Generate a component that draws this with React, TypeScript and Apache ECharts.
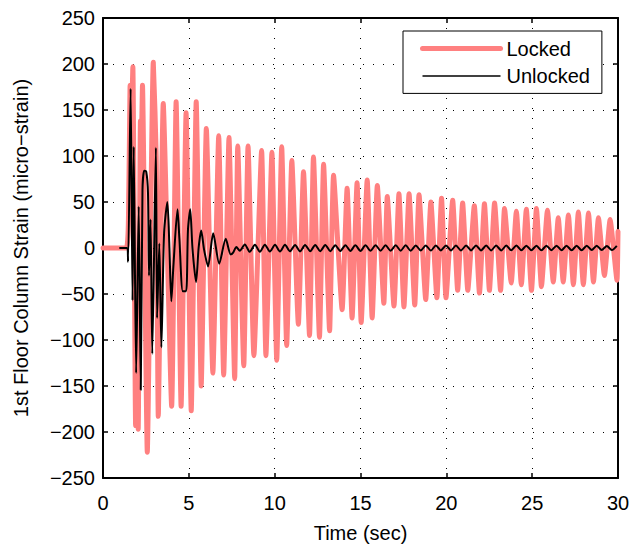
import React, { useEffect, useRef } from "react";
import * as echarts from "echarts";

const FONT = "Liberation Sans, Arial, Helvetica, sans-serif";

const xTicks = { min: 0, max: 30, interval: 5 };
const yTicks = { min: -250, max: 250, interval: 50 };

const seriesNames = ["Locked", "Unlocked"];

const lockedTime = [
  0, 1.35, 1.5, 1.58, 1.64, 1.74, 1.9, 1.97, 2.05, 2.18, 2.22, 2.3, 2.58, 2.93, 3.1, 3.22,
  3.51, 4.0, 4.26, 4.55, 4.84, 5.14, 5.43, 5.72, 6.02, 6.4, 6.74, 7.03, 7.34, 7.67,
  7.85, 8.2, 8.45, 8.79, 9.24, 9.49, 9.84, 10.12, 10.41, 10.7, 11.0, 11.38, 11.68,
  12.03, 12.26, 12.61, 12.85, 13.2, 13.43, 13.93, 14.22, 14.51, 14.8, 15.04, 15.39,
  15.68, 15.98, 16.36, 16.56, 16.95, 17.24, 17.53, 17.83, 18.16, 18.41, 18.8, 19.1,
  19.45, 19.72, 19.98, 20.37, 20.66, 20.95, 21.25, 21.63, 21.93, 22.22, 22.51, 22.81,
  23.16, 23.39, 23.78, 24.08, 24.37, 24.66, 24.96, 25.25, 25.54, 25.89, 26.23, 26.52,
  26.81, 27.11, 27.4, 27.69, 27.98, 28.28, 28.57, 28.86, 29.21, 29.54, 29.94, 30.0,
];
const lockedStrain = [
  0, 0, 60, 177, 130, 197, -193, -140, -197, 138, 100, 177, -222, 202, 99, -183,
  157, -172, 159, -172, 147, -177, 159, -150, 130, -136, 122, -138, 120, -142,
  111, -128, 111, -117, 106, -117, 104, -122, 110, -106, 95, -83, 83,
  -95, 99, -97, 91, -90, 79, -67, 65, -76, 71, -81, 74,
  -76, 68, -60, 56, -63, 59, -64, 59, -62, 58, -56, 50,
  -54, 54, -54, 52, -46, 49, -46, 46, -49, 48, -46, 49,
  -46, 43, -38, 40, -40, 42, -46, 43, -42, 41, -37, 33,
  -37, 36, -40, 39, -40, 38, -37, 33, -30, 31, -35, 18,
];

const unlockedTime = [
  0.95, 1.38, 1.46, 1.61, 1.72, 1.79, 1.93, 2.08, 2.2, 2.3, 2.4, 2.52, 2.62, 2.68, 2.77,
  2.87, 3.08, 3.15, 3.28, 3.4, 3.56, 3.75, 3.87, 3.98, 4.1, 4.34, 4.45, 4.65, 4.84,
  4.95, 5.08, 5.21, 5.42, 5.57, 5.72, 5.89, 6.12, 6.42, 6.77, 7.15, 7.44, 7.58, 7.77,
  7.97, 8.26, 8.55, 8.85, 9.14, 9.43, 9.72, 10.02, 10.31, 10.6, 10.89, 11.19, 11.48,
  11.77, 12.07, 12.36, 12.65, 12.95, 13.24, 13.53, 13.82, 14.12, 14.41, 14.7, 15.0,
  15.29, 15.58, 15.88, 16.17, 16.46, 16.75, 17.05, 17.34, 17.63, 17.92, 18.22, 18.51,
  18.8, 19.1, 19.39, 19.68, 19.98, 20.27, 20.56, 20.85, 21.15, 21.44, 21.73, 22.02,
  22.32, 22.61, 22.9, 23.2, 23.49, 23.78, 24.08, 24.37, 24.66, 24.95, 25.25, 25.54,
  25.83, 26.12, 26.42, 26.71, 27.0, 27.3, 27.59, 27.88, 28.18, 28.47, 28.76, 29.05,
  29.35, 29.64, 29.93,
];
const unlockedStrain = [
  0, 0, -15, 173, -57, 110, -136, 45, -154, 63, 84, 83, 60, -30, 31,
  -115, 109, -76, 5, -108, 17, 50, 0, -58, -20, 42, 10, -47, -47,
  20, 42, 0, -37, 0, 19, -2, -20, 16, -17, 10, -7, -5, 1,
  -3, 3.8, -4.2, 3.6, -4.0, 3.6, -3.8, 3.4, -3.8, 3.4, -3.6, 3.3, -3.6,
  3.3, -3.5, 3.2, -3.4, 3.2, -3.4, 3.1, -3.3, 3.1, -3.2, 3.0, -3.2,
  3.0, -3.1, 3.0, -3.0, 2.9, -3.0, 2.9, -2.9, 2.9, -2.9, 2.8, -2.8,
  2.8, -2.8, 2.8, -2.7, 2.8, -2.7, 2.7, -2.7, 2.7, -2.6, 2.7, -2.6,
  2.6, -2.6, 2.6, -2.6, 2.6, -2.5, 2.6, -2.5, 2.5, -2.5, 2.5, -2.5,
  2.5, -2.4, 2.5, -2.4, 2.4, -2.4, 2.4, -2.4, 2.4, -2.3, 2.4, -2.3,
  2.3, -2.3, 2.3,
];

const xName = "Time (sec)";
const yName = "1st Floor Column Strain (micro\u2212strain)";

const pairs = (t: number[], v: number[]) => t.map((x, i) => [x, v[i]]);
const fmt = (v: number) => (v < 0 ? "\u2212" + Math.abs(v) : String(v));

export default function App() {
  const ref = useRef<HTMLDivElement>(null);
  useEffect(() => {
    if (!ref.current) return;
    const chart = echarts.init(ref.current, undefined, { renderer: "svg" });
    const axisLine = { show: true, onZero: false, lineStyle: { color: "#000", width: 2 } };
    const tick = { show: true, inside: true, length: 5, lineStyle: { color: "#000", width: 1.5 } };
    const grid = { show: true, lineStyle: { color: "#000", width: 1, type: [1, 9] } };
    const label = { color: "#000", fontSize: 20, fontFamily: FONT };
    chart.setOption({
      animation: false,
      backgroundColor: "#fff",
      grid: { left: 103, right: 24, top: 18, bottom: 61, containLabel: false },
      legend: {
        orient: "vertical",
        left: 403,
        top: 31,
        itemWidth: 78,
        itemHeight: 20,
        itemGap: 7.4,
        padding: [7.5, 12, 7.5, 17],
        backgroundColor: "#fff",
        borderColor: "#000",
        borderWidth: 1,
        borderRadius: 0,
        textStyle: { color: "#000", fontSize: 20, fontFamily: FONT, padding: [0, 0, 0, 1] },
        data: [
          {
            name: seriesNames[0],
            lineStyle: { width: 5, color: "#FF8080" },
            itemStyle: { opacity: 0 },
          },
          {
            name: seriesNames[1],
            lineStyle: { width: 1.5, color: "#000" },
            itemStyle: { opacity: 0 },
          },
        ],
      },
      xAxis: [
        {
          type: "value",
          ...xTicks,
          position: "bottom",
          axisLine,
          axisTick: tick,
          splitLine: grid,
          axisLabel: { ...label, margin: 15, formatter: fmt },
          name: xName,
          nameLocation: "middle",
          nameGap: 45,
          nameTextStyle: label,
        },
        {
          type: "value",
          ...xTicks,
          position: "top",
          axisLine,
          axisTick: tick,
          splitLine: { show: false },
          axisLabel: { show: false },
        },
      ],
      yAxis: [
        {
          type: "value",
          ...yTicks,
          position: "left",
          axisLine,
          axisTick: tick,
          splitLine: grid,
          axisLabel: { ...label, margin: 8, formatter: fmt },
          name: yName,
          nameLocation: "middle",
          nameGap: 72,
          nameTextStyle: label,
        },
        {
          type: "value",
          ...yTicks,
          position: "right",
          axisLine,
          axisTick: tick,
          splitLine: { show: false },
          axisLabel: { show: false },
        },
      ],
      series: [
        {
          name: seriesNames[0],
          type: "line",
          data: pairs(lockedTime, lockedStrain),
          symbol: "none",
          smooth: 0.15,
          lineStyle: { color: "#FF8080", width: 5, join: "round", cap: "round" },
          itemStyle: { color: "#FF8080" },
          z: 2,
        },
        {
          name: seriesNames[1],
          type: "line",
          data: pairs(unlockedTime, unlockedStrain),
          symbol: "none",
          smooth: 0.25,
          lineStyle: { color: "#000", width: 2, join: "round" },
          itemStyle: { color: "#000" },
          z: 3,
        },
      ],
    });
    return () => chart.dispose();
  }, []);
  return (
    <div
      ref={ref}
      style={{ position: "fixed", left: 0, top: 0, width: 642, height: 548, background: "#fff" }}
    />
  );
}
